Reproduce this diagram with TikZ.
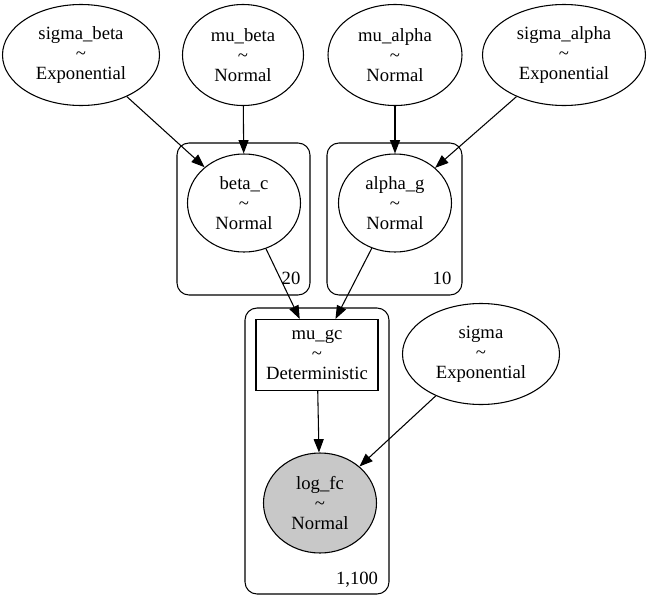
\documentclass[tikz,border=0pt]{standalone}
\usepackage{fontspec}
\setmainfont{Liberation Serif}
\usetikzlibrary{arrows.meta,shapes.geometric}
\definecolor{obsgray}{RGB}{200,200,200}

\begin{document}
\begin{tikzpicture}[x=0.75pt,y=-0.75pt,
    font=\fontsize{14}{15}\selectfont,
    rv/.style={draw,ellipse,align=center,inner sep=0pt,line width=0.8pt},
    det/.style={draw,rectangle,align=center,inner sep=0pt,line width=0.8pt},
    plate/.style={draw,rounded corners=9pt,line width=0.8pt},
    edge/.style={-{Triangle[length=10pt,width=7.5pt]},line width=0.8pt}]
    \useasboundingbox (0,0) rectangle (651,611);
    % plates
    \draw[plate] (177,143) rectangle (310,295);
    \draw[plate] (327,143) rectangle (462,295);
    \draw[plate] (245,308) rectangle (389,594);
    \node (n20)  at (291,278) {20};
    \node (n10)  at (442,278) {10};
    \node (n1100) at (357,580) {1,100};
    % random variables
    \node[rv,minimum width=117.75pt,minimum height=75.75pt] (sigmabeta)  at (81,55)  {sigma\_beta\\\textasciitilde\\Exponential};
    \node[rv,minimum width=90.75pt,minimum height=75.75pt]  (mubeta)     at (243,55) {mu\_beta\\\textasciitilde\\Normal};
    \node[rv,minimum width=100.5pt,minimum height=75.75pt]  (mualpha)    at (395,55) {mu\_alpha\\\textasciitilde\\Normal};
    \node[rv,minimum width=122.25pt,minimum height=75.75pt] (sigmaalpha) at (564,55) {sigma\_alpha\\\textasciitilde\\Exponential};
    \node[rv,minimum width=84.75pt,minimum height=73.5pt]   (betac)      at (244,203) {beta\_c\\\textasciitilde\\Normal};
    \node[rv,minimum width=84.75pt,minimum height=73.5pt]   (alphag)     at (395,203) {alpha\_g\\\textasciitilde\\Normal};
    \node[det,minimum width=91.5pt,minimum height=53.25pt]  (mugc)       at (317,355) {mu\_gc\\\textasciitilde\\Deterministic};
    \node[rv,minimum width=117.75pt,minimum height=75.75pt] (sigma)      at (481,354) {sigma\\\textasciitilde\\Exponential};
    \node[rv,fill=obsgray,minimum width=84.75pt,minimum height=75pt] (logfc) at (320,503) {log\_fc\\\textasciitilde\\Normal};
    % edges
    \draw[edge] (sigmabeta) -- (betac);
    \draw[edge] (mubeta) -- (betac);
    \draw[edge] (mualpha) -- (alphag);
    \draw[edge] (sigmaalpha) -- (alphag);
    \draw[edge] (betac) -- (mugc);
    \draw[edge] (alphag) -- (mugc);
    \draw[edge] (mugc) -- (logfc);
    \draw[edge] (sigma) -- (logfc);
\end{tikzpicture}
\end{document}
